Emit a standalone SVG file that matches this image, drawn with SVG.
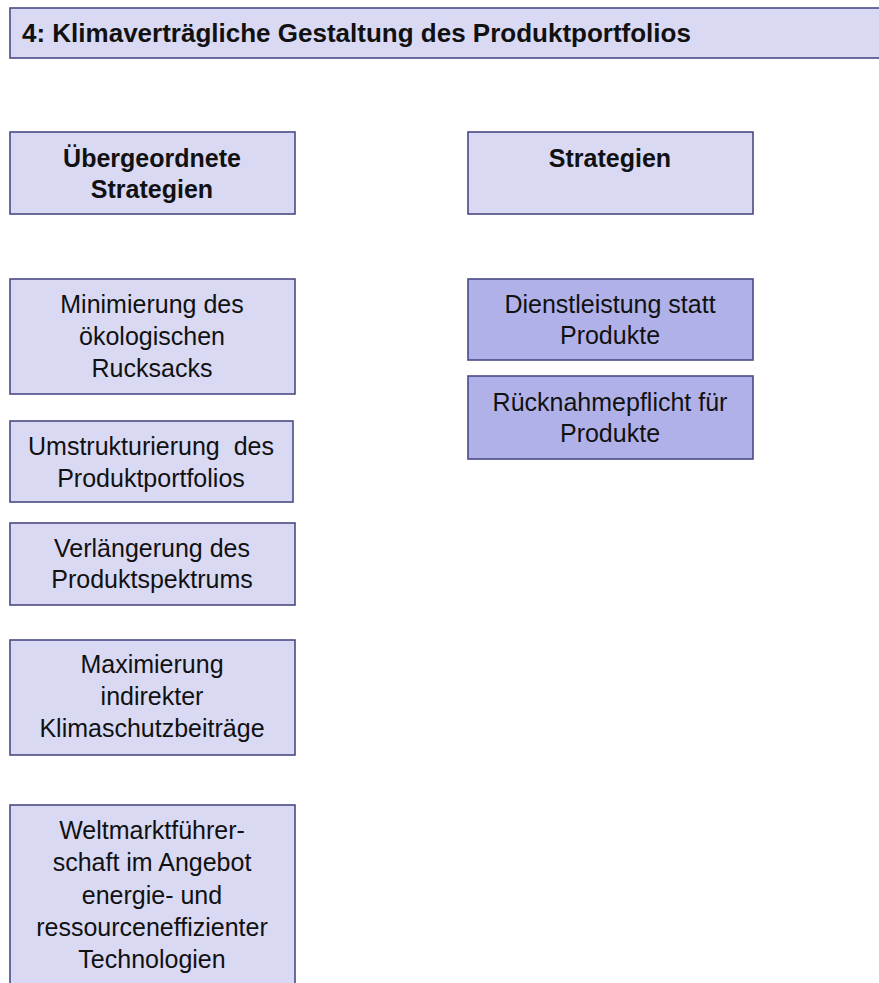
<svg xmlns="http://www.w3.org/2000/svg" width="879" height="983" viewBox="0 0 879 983">
<style>
.b{fill:#d9d9f4;stroke:#4a4a86;stroke-width:1.6}
.d{fill:#b1b1ea;stroke:#4a4a86;stroke-width:1.6}
text{font-family:"Liberation Sans",Arial,sans-serif;font-size:25px;fill:#111;text-anchor:middle}
.h{font-weight:bold;font-size:25px}
.t{font-weight:bold;font-size:26px;text-anchor:start}
</style>
<rect width="879" height="983" fill="#fff"/>
<g id="title"><rect class="b" x="10" y="8" width="880" height="50"/><text class="t" x="22" y="42">4: Klimaverträgliche Gestaltung des Produktportfolios</text></g>
<g id="hdr-left"><rect class="b" x="10" y="132" width="285" height="82"/><text class="h" x="152" y="167">Übergeordnete</text><text class="h" x="152" y="198">Strategien</text></g>
<g id="hdr-right"><rect class="b" x="468" y="132" width="285" height="82"/><text class="h" x="610" y="167">Strategien</text></g>
<g id="n1"><rect class="b" x="10" y="279" width="285" height="115"/><text x="152" y="313">Minimierung des</text><text x="152" y="345">ökologischen</text><text x="152" y="377">Rucksacks</text></g>
<g id="n2"><rect class="b" x="10" y="421" width="283" height="81"/><text x="151" y="455" xml:space="preserve">Umstrukturierung  des</text><text x="151" y="487">Produktportfolios</text></g>
<g id="n3"><rect class="b" x="10" y="523" width="285" height="82"/><text x="152" y="557">Verlängerung des</text><text x="152" y="588">Produktspektrums</text></g>
<g id="n4"><rect class="b" x="10" y="640" width="285" height="115"/><text x="152" y="673">Maximierung</text><text x="152" y="705">indirekter</text><text x="152" y="737">Klimaschutzbeiträge</text></g>
<g id="n5"><rect class="b" x="10" y="805" width="285" height="190"/><text x="152" y="839">Weltmarktführer-</text><text x="152" y="871">schaft im Angebot</text><text x="152" y="904">energie- und</text><text x="152" y="936">ressourceneffizienter</text><text x="152" y="968">Technologien</text></g>
<g id="s1"><rect class="d" x="468" y="279" width="285" height="81"/><text x="610" y="313">Dienstleistung statt</text><text x="610" y="344">Produkte</text></g>
<g id="s2"><rect class="d" x="468" y="376" width="285" height="83"/><text x="610" y="411">Rücknahmepflicht für</text><text x="610" y="442">Produkte</text></g>
<g id="connectors"></g>
</svg>
